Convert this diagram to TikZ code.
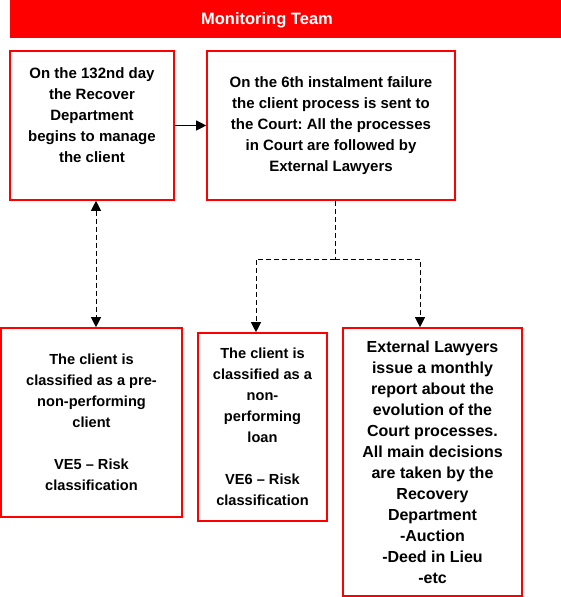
\documentclass[tikz,border=0pt]{standalone}
\usepackage{fontspec}
\setmainfont{Liberation Sans}
\usepackage{xcolor}
\usetikzlibrary{arrows.meta, calc, positioning}
\definecolor{teamred}{RGB}{255,0,0}
\frenchspacing

\begin{document}
\begin{tikzpicture}[x=1pt, y=-1pt,
    box/.style={draw=teamred, line width=1.6pt, rectangle, inner sep=0pt},
    txt/.style={align=center, font=\bfseries\fontsize{#1}{21}\selectfont},
    txt/.default=15,
    link/.style={dash pattern=on 5pt off 3pt, line width=0.9pt},
    tip/.style={-{Triangle[length=10pt, width=10pt]}},
    twotips/.style={{Triangle[length=10pt, width=10pt]}-{Triangle[length=10pt, width=10pt]}}]
    \useasboundingbox (0,0) rectangle (561,597);

    \node[fill=teamred, minimum width=551, minimum height=38, inner sep=0pt] (banner) at (285.5,19) {};
    \node[text=white, font=\bfseries\fontsize{16.5}{20}\selectfont] (title) at (267,20) {Monitoring Team};

    \node[box, minimum width=164, minimum height=149] (start) at (92,125.5) {};
    \node[txt] (starttext) at ($(start.center)+(0,-10)$) {On the 132nd day\\ the Recover\\ Department\\ begins to manage\\ the client};
    \node[box, txt, minimum width=248, minimum height=149] (court) at (331,125.5)
        {On the 6th instalment failure\\ the client process is sent to\\ the Court: All the processes\\ in Court are followed by\\ External Lawyers};

    \node[box, txt=14.6, minimum width=181, minimum height=189] (prenpl) at (91.5,422.5)
        {The client is\\ classified as a pre-\\ non-performing\\ client\\[21pt] VE5 -- Risk\\ classification};
    \node[box, txt=14.6, minimum width=129, minimum height=188] (npl) at (262.5,427)
        {The client is\\ classified as a\\ non-\\ performing\\ loan\\[21pt] VE6 -- Risk\\ classification};
    \node[box, txt=16, minimum width=179, minimum height=268] (lawyers) at (432.5,462)
        {External Lawyers\\ issue a monthly\\ report about the\\ evolution of the\\ Court processes.\\ All main decisions\\ are taken by the\\ Recovery\\ Department\\ -Auction\\ -Deed in Lieu\\ -etc};

    \coordinate (split) at (335,259);

    \draw
    (start) edge[tip, line width=0.9pt] (court)
    ($(start.south)+(4,0)$) edge[twotips, link] ($(prenpl.north)+(4.5,0)$);

    \draw[link] (court.south -| split) -- (split);
    \draw[link, tip] (split) -| ($(npl.north)+(-6.5,0)$);
    \draw[link, tip] (split) -| ($(lawyers.north)+(-12.5,0)$);
\end{tikzpicture}
\end{document}
